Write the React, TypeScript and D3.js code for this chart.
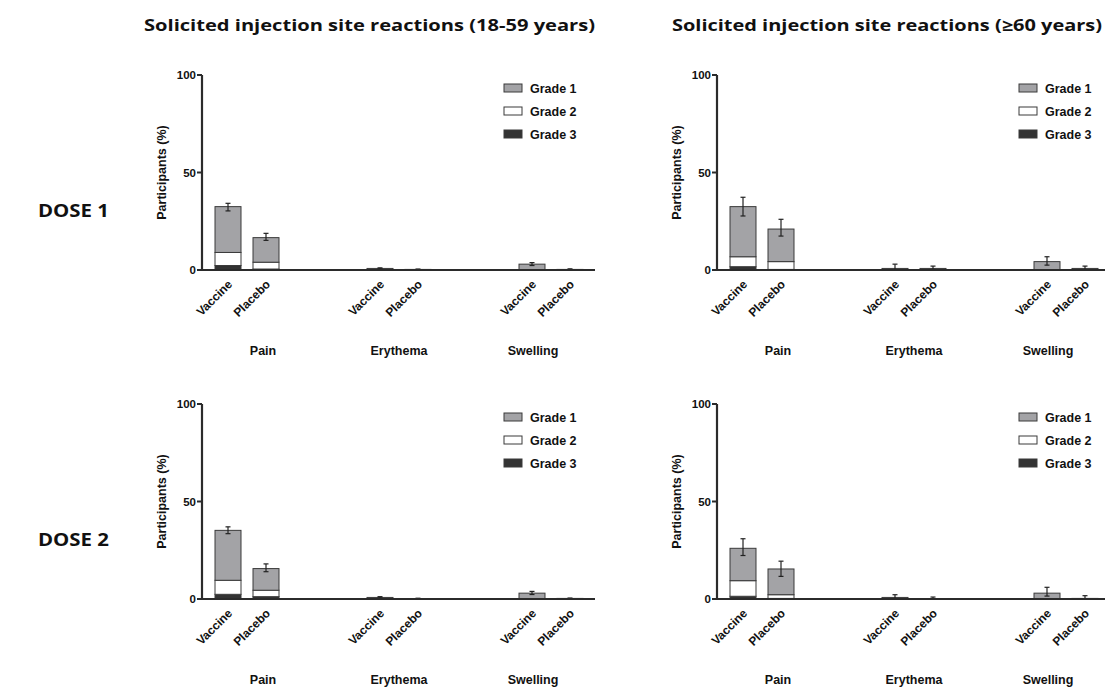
import React from "react";
import * as d3 from "d3";

const categories = ["Pain", "Erythema", "Swelling"];
const groups = ["Vaccine", "Placebo"];
const grades = ["Grade 1", "Grade 2", "Grade 3"];
const yTicks = [0, 50, 100];
const panelTitles = [
  "Solicited injection site reactions (18-59 years)",
  "Solicited injection site reactions (\u226560 years)",
];
const doseLabels = ["DOSE 1", "DOSE 2"];

// bar order: Pain V, Pain P, Erythema V, Erythema P, Swelling V, Swelling P
const d1young_g3 = [2.3, 0.5, 0, 0, 0, 0];
const d1young_g2 = [6.7, 3.5, 0, 0, 0, 0];
const d1young_g1 = [23.5, 12.6, 0.8, 0.3, 3.0, 0.3];
const d1young_err = [[30.3, 34.2], [15.2, 18.8], [0.5, 1.1], [0.1, 0.5], [2.3, 3.8], [0.1, 0.6]];

const d1old_g3 = [1.7, 0.3, 0, 0, 0, 0];
const d1old_g2 = [5.1, 4.0, 0, 0, 0, 0];
const d1old_g1 = [25.7, 16.7, 0.8, 0.8, 4.3, 0.8];
const d1old_err = [[27.7, 37.3], [17.4, 26.0], [0.2, 3.0], [0.3, 2.0], [2.5, 6.8], [0.2, 2.0]];

const d2young_g3 = [2.4, 1.2, 0, 0, 0, 0];
const d2young_g2 = [7.2, 3.3, 0, 0, 0, 0];
const d2young_g1 = [25.6, 11.1, 0.8, 0.2, 3.0, 0.3];
const d2young_err = [[33.5, 37.0], [14.0, 18.0], [0.5, 1.2], [0.05, 0.4], [2.3, 3.9], [0.1, 0.5]];

const d2old_g3 = [1.4, 0.3, 0, 0, 0, 0];
const d2old_g2 = [8.0, 1.9, 0, 0, 0, 0];
const d2old_g1 = [16.6, 13.2, 0.8, 0, 3.0, 0.3];
const d2old_err = [[22.3, 30.9], [11.6, 19.4], [0.2, 2.2], [0, 1.0], [1.5, 6.0], [0, 1.7]];

const panels = [
  { g1: d1young_g1, g2: d1young_g2, g3: d1young_g3, err: d1young_err },
  { g1: d1old_g1, g2: d1old_g2, g3: d1old_g3, err: d1old_err },
  { g1: d2young_g1, g2: d2young_g2, g3: d2young_g3, err: d2young_err },
  { g1: d2old_g1, g2: d2old_g2, g3: d2old_g3, err: d2old_err },
];

// styling
const gradeFill = ["#a3a3a6", "#ffffff", "#333333"];
const groupLabelShift = [16, 0, -18];
const AX = "Liberation Sans, Arial, sans-serif";
const TITLE_FONT = "Open Sans, Liberation Sans, sans-serif";

function Panel({ data, ax, top, bottom }: any) {
  const y = d3.scaleLinear().domain([0, 100]).range([bottom, top]);
  const slots = d3.range(10);
  const x = d3.scaleBand<number>().domain(slots).range([ax + 1, ax + 393]).padding(0.316);
  const bw = x.bandwidth();
  const bars: any[] = [];
  categories.forEach((c, ci) => {
    groups.forEach((g, gi) => {
      const idx = ci * 2 + gi;
      const slot = ci * 4 + gi;
      bars.push({ c, g, idx, slot, x0: x(slot) as number });
    });
  });
  return (
    <g>
      {bars.map((b) => {
        const g3 = data.g3[b.idx];
        const g2 = data.g2[b.idx];
        const g1 = data.g1[b.idx];
        const stack = [
          { v0: 0, v1: g3, f: gradeFill[2] },
          { v0: g3, v1: g3 + g2, f: gradeFill[1] },
          { v0: g3 + g2, v1: g3 + g2 + g1, f: gradeFill[0] },
        ];
        const [lo, hi] = data.err[b.idx];
        const cx = b.x0 + bw / 2;
        return (
          <g key={b.idx}>
            {stack.map((s, si) =>
              s.v1 - s.v0 > 0 ? (
                <rect
                  key={si}
                  x={b.x0}
                  y={y(s.v1)}
                  width={bw}
                  height={y(s.v0) - y(s.v1)}
                  fill={s.f}
                  stroke="#3a3a3a"
                  strokeWidth={1}
                />
              ) : null
            )}
            <line x1={cx} x2={cx} y1={y(lo)} y2={y(hi)} stroke="#222" strokeWidth={1.2} />
            <line x1={cx - 2.5} x2={cx + 2.5} y1={y(hi)} y2={y(hi)} stroke="#222" strokeWidth={1.2} />
            <line x1={cx - 2.5} x2={cx + 2.5} y1={y(lo)} y2={y(lo)} stroke="#222" strokeWidth={1.2} />
            <text
              transform={`translate(${cx + 5},${bottom + 15}) rotate(-45)`}
              textAnchor="end"
              fontFamily={AX}
              fontWeight="bold"
              fontSize={12}
              fill="#111"
            >
              {b.g}
            </text>
          </g>
        );
      })}
      <line x1={ax} x2={ax} y1={top} y2={bottom} stroke="#2b2b2b" strokeWidth={2.2} />
      <line x1={ax - 1} x2={ax + 393} y1={bottom} y2={bottom} stroke="#2b2b2b" strokeWidth={2.2} />
      {yTicks.map((t) => (
        <g key={t}>
          <line x1={ax - 5} x2={ax} y1={y(t)} y2={y(t)} stroke="#2b2b2b" strokeWidth={2} />
          <text
            x={ax - 6}
            y={y(t) + 4}
            textAnchor="end"
            fontFamily={AX}
            fontWeight="bold"
            fontSize={11.5}
            fill="#111"
          >
            {t}
          </text>
        </g>
      ))}
      <text
        transform={`translate(${ax - 36},${y(50)}) rotate(-90)`}
        textAnchor="middle"
        fontFamily={AX}
        fontWeight="bold"
        fontSize={12.5}
        fill="#111"
      >
        Participants  (%)
      </text>
      {categories.map((c, ci) => {
        const mid = ((x(ci * 4) as number) + (x(ci * 4 + 1) as number) + bw) / 2;
        return (
          <text
            key={c}
            x={mid + groupLabelShift[ci]}
            y={bottom + 85}
            textAnchor="middle"
            fontFamily={AX}
            fontWeight="bold"
            fontSize={12.5}
            fill="#111"
          >
            {c}
          </text>
        );
      })}
      {grades.map((gname, gi) => (
        <g key={gname}>
          <rect
            x={ax + 302}
            y={top + 9 + gi * 23}
            width={18}
            height={8}
            fill={gradeFill[gi]}
            stroke="#3a3a3a"
            strokeWidth={1}
          />
          <text
            x={ax + 328}
            y={top + 17.5 + gi * 23}
            fontFamily={AX}
            fontWeight="bold"
            fontSize={12.5}
            fill="#111"
          >
            {gname}
          </text>
        </g>
      ))}
    </g>
  );
}

export default function App() {
  const axes = [202, 717];
  const rows = [
    { top: 75, bottom: 270 },
    { top: 404, bottom: 599 },
  ];
  return (
    <svg
      width={1105}
      height={689}
      style={{ position: "absolute", left: 0, top: 0, background: "#fff" }}
    >
      {panelTitles.map((t, i) => (
        <text
          key={t}
          x={i === 0 ? 144 : 672}
          y={31}
          fontFamily={TITLE_FONT}
          fontWeight="bold"
          fontSize={16}
          textLength={i === 0 ? 451 : 430}
          lengthAdjust="spacingAndGlyphs"
          fill="#111"
        >
          {t}
        </text>
      ))}
      {doseLabels.map((d, i) => (
        <text
          key={d}
          x={38}
          y={i === 0 ? 217 : 546}
          fontFamily={TITLE_FONT}
          fontWeight="bold"
          fontSize={17}
          textLength={71}
          lengthAdjust="spacingAndGlyphs"
          fill="#111"
        >
          {d}
        </text>
      ))}
      {panels.map((p, i) => (
        <Panel
          key={i}
          data={p}
          ax={axes[i % 2]}
          top={rows[Math.floor(i / 2)].top}
          bottom={rows[Math.floor(i / 2)].bottom}
        />
      ))}
    </svg>
  );
}
